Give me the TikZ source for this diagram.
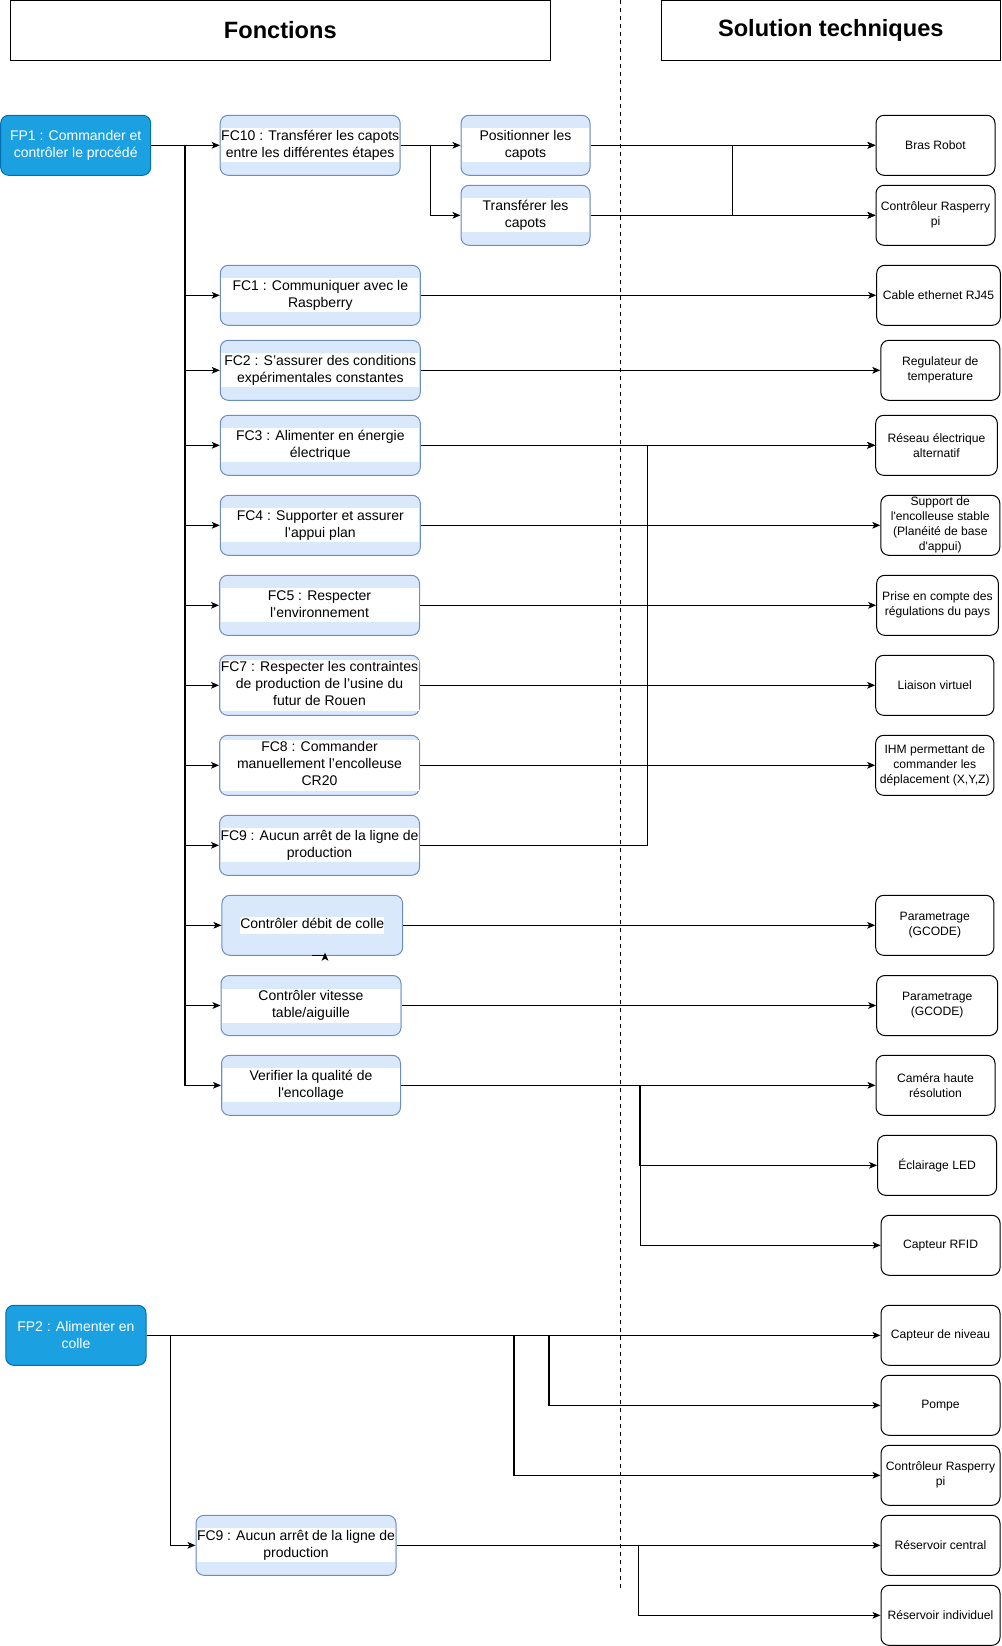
\documentclass[tikz,border=0pt]{standalone}
\usepackage{fontspec}
\setmainfont{Liberation Sans}
\usetikzlibrary{arrows.meta,positioning}

\definecolor{fcfill}{HTML}{DAE8FC}
\definecolor{fcline}{HTML}{6C8EBF}
\definecolor{fpfill}{HTML}{1BA1E2}
\definecolor{fpline}{HTML}{006EAF}

\newcommand{\fcfont}{\fontsize{10.5}{12.75}\selectfont}
\newcommand{\stfont}{\fontsize{9.1}{11.25}\selectfont}
% white label band across a function box
\newcommand{\band}[2][148.5pt]{{\setlength{\fboxsep}{0pt}\colorbox{white}{\parbox{#1}{\centering\strut #2\strut}}}}

\begin{document}
\begin{tikzpicture}[x=0.75pt,y=-0.75pt,
    title/.style={rectangle,draw,line width=0.75pt,minimum height=44.8pt,font=\fontsize{17.7}{20}\selectfont\bfseries},
    fpbox/.style={rectangle,rounded corners=6pt,draw=fpline,fill=fpfill,text=white,line width=0.75pt,minimum width=112.5pt,minimum height=45pt,align=center,font=\fcfont},
    fcbox/.style={rectangle,rounded corners=6pt,draw=fcline,fill=fcfill,line width=0.75pt,minimum width=150pt,minimum height=45pt,inner xsep=0.75pt,inner ysep=0pt,font=\fcfont},
    solbox/.style={rectangle,rounded corners=6pt,draw,fill=white,line width=0.75pt,minimum width=89.25pt,minimum height=45pt,inner sep=1pt,align=center,font=\stfont},
    boxw/.style={minimum width=#1},
    arr/.style={-{Stealth[length=6pt,width=5pt,inset=1.5pt]},line width=0.8pt}
]
\useasboundingbox (0,0) rectangle (1001,1646);

% === Titles ===
\node[title,minimum width=405pt] (fonctions) at (280.3,30.2) {Fonctions};
\node[title,minimum width=253.8pt] (solutions) at (830.8,30.2) {Solution techniques};
\coordinate (septop) at (620.5,0);
\coordinate (sepbot) at (620.5,1590.7);
\draw[line width=0.75pt,dash pattern=on 3pt off 3pt] (septop) -- (sepbot);

% === FP1 ===
\node[fpbox] (fp1) at (75.7,145.3) {FP1 : Commander et\\contrôler le procédé};

\node[fcbox,boxw=135pt] (fc10) at (310.2,145.3) {\band[133.5pt]{FC10 : Transférer les capots\\entre les différentes étapes}};
\node[fcbox,boxw=96.75pt] (pos) at (525.5,145.3) {\band[95.25pt]{Positionner les\\capots}};
\node[fcbox,boxw=96.75pt] (trans) at (525.5,215.3) {\band[95.25pt]{Transférer les\\capots}};
\node[fcbox] (fc1) at (320.3,295.3) {\band{FC1 : Communiquer avec le\\Raspberry}};
\node[fcbox] (fc2) at (320.3,370.3) {\band{FC2 : S’assurer des conditions\\expérimentales constantes}};
\node[fcbox] (fc3) at (320.3,445.3) {\band{FC3 : Alimenter en énergie\\électrique}};
\node[fcbox] (fc4) at (320.3,525.3) {\band{FC4 : Supporter et assurer\\l’appui plan}};
\node[fcbox] (fc5) at (319.5,605.3) {\band{FC5 : Respecter\\l’environnement}};
\node[fcbox] (fc7) at (319.5,685.3) {\band{FC7 : Respecter les contraintes\\de production de l’usine du\\futur de Rouen}};
\node[fcbox] (fc8) at (319.5,765.3) {\band{FC8 : Commander\\manuellement l’encolleuse\\CR20}};
\node[fcbox] (fc9) at (319.5,845.3) {\band{FC9 : Aucun arrêt de la ligne de\\production}};
\node[fcbox,boxw=135.5pt] (debit) at (312.3,925.3) {{\setlength{\fboxsep}{0pt}\colorbox{white}{\strut Contrôler débit de colle}}};
\node[fcbox,boxw=135pt] (vitesse) at (311,1005.5) {\band[133.5pt]{Contrôler vitesse\\table/aiguille}};
\node[fcbox,boxw=134.25pt] (verif) at (311,1085.3) {\band[132.75pt]{Verifier la qualité de\\l\textquotesingle encollage}};

% solutions
\node[solbox] (bras) at (935.5,145.3) {Bras Robot};
\node[solbox] (ctrl) at (935.5,215.3) {Contrôleur Rasperry\\pi};
\node[solbox,boxw=92.7pt] (cable) at (938.5,295.3) {Cable ethernet RJ45};
\node[solbox] (regul) at (940.3,370.3) {Regulateur de\\temperature};
\node[solbox,boxw=91.2pt] (reseau) at (936.5,445.3) {Réseau électrique\\alternatif};
\node[solbox] (support) at (940.3,525.3) {Support de\\l\textquotesingle encolleuse stable\\(Planéité de base\\d\textquotesingle appui)};
\node[solbox,boxw=91.2pt] (prise) at (937.5,605.3) {Prise en compte des\\régulations du pays};
\node[solbox,boxw=88.7pt] (liaison) at (934.8,685.3) {Liaison virtuel};
\node[solbox,boxw=88.7pt] (ihm) at (934.8,765.3) {IHM permettant de\\commander les\\déplacement (X,Y,Z)};
\node[solbox,boxw=88.7pt] (param1) at (934.8,925.3) {Parametrage\\(GCODE)};
\node[solbox,boxw=90.75pt] (param2) at (937.2,1005.5) {Parametrage\\(GCODE)};
\node[solbox] (camera) at (935.5,1085.3) {Caméra haute\\résolution};
\node[solbox] (eclair) at (937.1,1165.3) {Éclairage LED};
\node[solbox] (rfid) at (940.6,1245.3) {Capteur RFID};

% FP1 edges
\coordinate (trunk) at (185,145.3);
\foreach \n in {fc10,fc1,fc2,fc3,fc4,fc5,fc7,fc8,fc9,debit,vitesse,verif}
    \draw[arr] (fp1.east) -- (trunk) |- (\n.west);
\draw[line width=1.5pt] (trunk) -- (trunk |- fc9.west);

\coordinate (split10) at (430.3,145.3);
\draw[arr] (fc10.east) -- (pos.west);
\draw[arr] (fc10.east) -- (split10) |- (trans.west);
\coordinate (crossa) at (732.7,145.3);
\coordinate (crossb) at (732.7,215.3);
\draw[arr] (pos.east) -- (bras.west);
\draw[arr] (pos.east) -- (crossa) |- (ctrl.west);
\draw[arr] (trans.east) -- (ctrl.west);
\draw[arr] (trans.east) -- (crossb) |- (bras.west);

\draw[arr] (fc1.east) -- (cable.west);
\draw[arr] (fc2.east) -- (regul.west);
\draw[arr] (fc3.east) -- (reseau.west);
\draw[arr] (fc4.east) -- (support.west);
\draw[arr] (fc5.east) -- (prise.west);
\draw[arr] (fc7.east) -- (liaison.west);
\draw[arr] (fc8.east) -- (ihm.west);
\coordinate (join9) at (647.3,845.3);
\draw[arr] (fc9.east) -- (join9) |- (reseau.west);
\draw[arr] (debit.east) -- (param1.west);
\draw[arr] (vitesse.east) -- (param2.west);
\coordinate (splitv) at (639.2,1085.3);
\coordinate (splitw) at (640.5,1085.3);
\draw[arr] (verif.east) -- (camera.west);
\draw[arr] (verif.east) -- (splitv) |- (eclair.west);
\draw[arr] (verif.east) -- (splitw) |- (rfid.west);

% stray arrow under debit box
\coordinate (stub) at (312.3,955.3);
\draw[arr] (stub) -- ++(12.7,0) -- ++(0,-2.6);

% === FP2 ===
\node[fpbox,minimum width=105.2pt] (fp2) at (75.9,1335.3) {FP2 : Alimenter en\\colle};
\node[fcbox] (fc9b) at (296,1545.3) {\band{FC9 : Aucun arrêt de la ligne de\\production}};
\node[solbox] (niveau) at (940.5,1335.3) {Capteur de niveau};
\node[solbox] (pompe) at (940.5,1405.3) {Pompe};
\node[solbox] (ctrlb) at (940.5,1475.3) {Contrôleur Rasperry\\pi};
\node[solbox] (rcentral) at (940.5,1545.3) {Réservoir central};
\node[solbox] (rindiv) at (940.5,1615.3) {Réservoir individuel};

\coordinate (branch9) at (170.7,1335.3);
\coordinate (branchc) at (514,1335.3);
\coordinate (branchp) at (549,1335.3);
\draw[arr] (fp2.east) -- (niveau.west);
\draw[arr] (fp2.east) -- (branchp) |- (pompe.west);
\draw[arr] (fp2.east) -- (branchc) |- (ctrlb.west);
\draw[arr] (fp2.east) -- (branch9) |- (fc9b.west);
\coordinate (splitr) at (638.6,1545.3);
\draw[arr] (fc9b.east) -- (rcentral.west);
\draw[arr] (fc9b.east) -- (splitr) |- (rindiv.west);

\end{tikzpicture}
\end{document}
